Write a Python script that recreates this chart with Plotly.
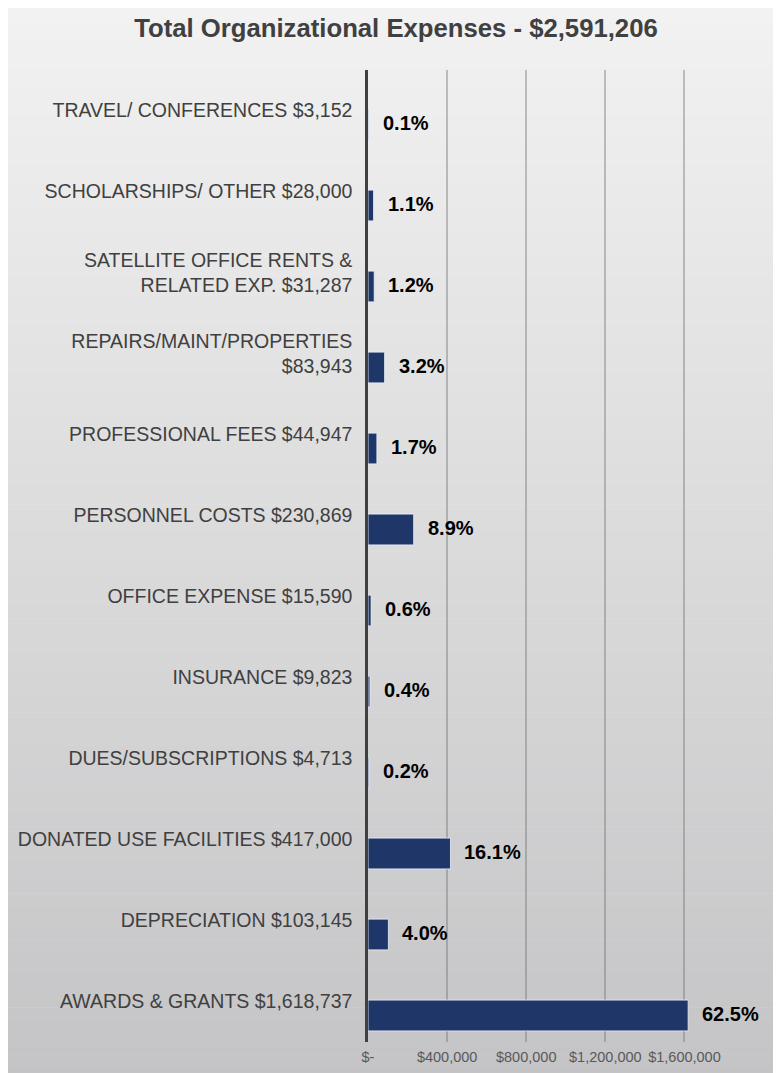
import plotly.graph_objects as go

# bottom-to-top order (index 0 = lowest bar)
labels = [
    "AWARDS & GRANTS $1,618,737",
    "DEPRECIATION $103,145",
    "DONATED USE FACILITIES $417,000",
    "DUES/SUBSCRIPTIONS $4,713",
    "INSURANCE $9,823",
    "OFFICE EXPENSE $15,590",
    "PERSONNEL COSTS $230,869",
    "PROFESSIONAL FEES $44,947",
    "REPAIRS/MAINT/PROPERTIES<br>$83,943",
    "SATELLITE OFFICE RENTS &<br>RELATED EXP. $31,287",
    "SCHOLARSHIPS/ OTHER $28,000",
    "TRAVEL/ CONFERENCES $3,152",
]
amounts = [1618737, 103145, 417000, 4713, 9823, 15590, 230869, 44947, 83943, 31287, 28000, 3152]
shares = ["62.5%", "4.0%", "16.1%", "0.2%", "0.4%", "0.6%", "8.9%", "1.7%", "3.2%", "1.2%", "1.1%", "0.1%"]

x_ticks = [0, 400000, 800000, 1200000, 1600000]
x_tick_text = ["$-", "$400,000", "$800,000", "$1,200,000", "$1,600,000"]

# the page body has an 8px margin, so margins are shifted by 8px
W, H = 781, 1073
L, R, T, B = 360, 65, 62, 39
pos = list(range(len(labels)))

fig = go.Figure()

fig.add_trace(go.Bar(
    x=amounts,
    y=pos,
    orientation="h",
    width=0.38,
    offset=-0.363,
    marker=dict(color="#1f3768", line=dict(color="rgba(235,240,250,0.8)", width=1)),
    hoverinfo="skip",
))

# percentage labels
for i, v in enumerate(amounts):
    fig.add_annotation(
        x=v, y=i - 0.15, text=shares[i],
        showarrow=False, xanchor="left", yanchor="middle", xshift=12,
        font=dict(family="Liberation Sans, Arial", size=20, color="#000000", weight="bold"),
    )

# vertical gradient panel behind the chart (stripes)
pw, ph = W - L - R, H - T - B
x0 = -L / pw
x1 = (W - L) / pw
n = 160
top_c, bot_c = (242, 242, 242), (196, 196, 198)
for k in range(n):
    f = (k + 0.5) / n
    c = tuple(round(top_c[j] + (bot_c[j] - top_c[j]) * f) for j in range(3))
    ya = H * k / n
    yb = H * (k + 1) / n + 0.6
    fig.add_shape(
        type="rect", xref="paper", yref="paper", layer="below",
        x0=x0, x1=x1,
        y0=(H - B - yb) / ph, y1=(H - B - ya) / ph,
        fillcolor="rgb(%d,%d,%d)" % c, line=dict(width=0),
    )

fig.update_layout(
    width=W, height=H,
    margin=dict(l=L, r=R, t=T, b=B),
    paper_bgcolor="white",
    plot_bgcolor="rgba(0,0,0,0)",
    showlegend=False,
    title=dict(
        text="Total Organizational Expenses - $2,591,206",
        x=388 / W, xanchor="center", y=1 - 20 / H, yanchor="middle",
        font=dict(family="Liberation Sans, Arial", size=25.7, color="#404040", weight="bold"),
    ),
    xaxis=dict(
        range=[0, 1800000],
        tickvals=x_ticks, ticktext=x_tick_text,
        showgrid=True, gridcolor="rgba(110,110,110,0.4)", gridwidth=1.5,
        zeroline=False, showline=False, automargin=False,
        tickfont=dict(family="Liberation Sans, Arial", size=14.5, color="#595959"),
        ticks="", ticklabelstandoff=4,
    ),
    yaxis=dict(
        range=[-0.5, len(labels) - 0.5],
        tickvals=pos, ticktext=labels,
        showgrid=False, zeroline=False, automargin=False,
        showline=True, linecolor="#404040", linewidth=2.5,
        tickfont=dict(family="Liberation Sans, Arial", size=19.5, color="#404040"),
        ticks="", ticklabelstandoff=9,
    ),
)

fig.write_html("out.html")
